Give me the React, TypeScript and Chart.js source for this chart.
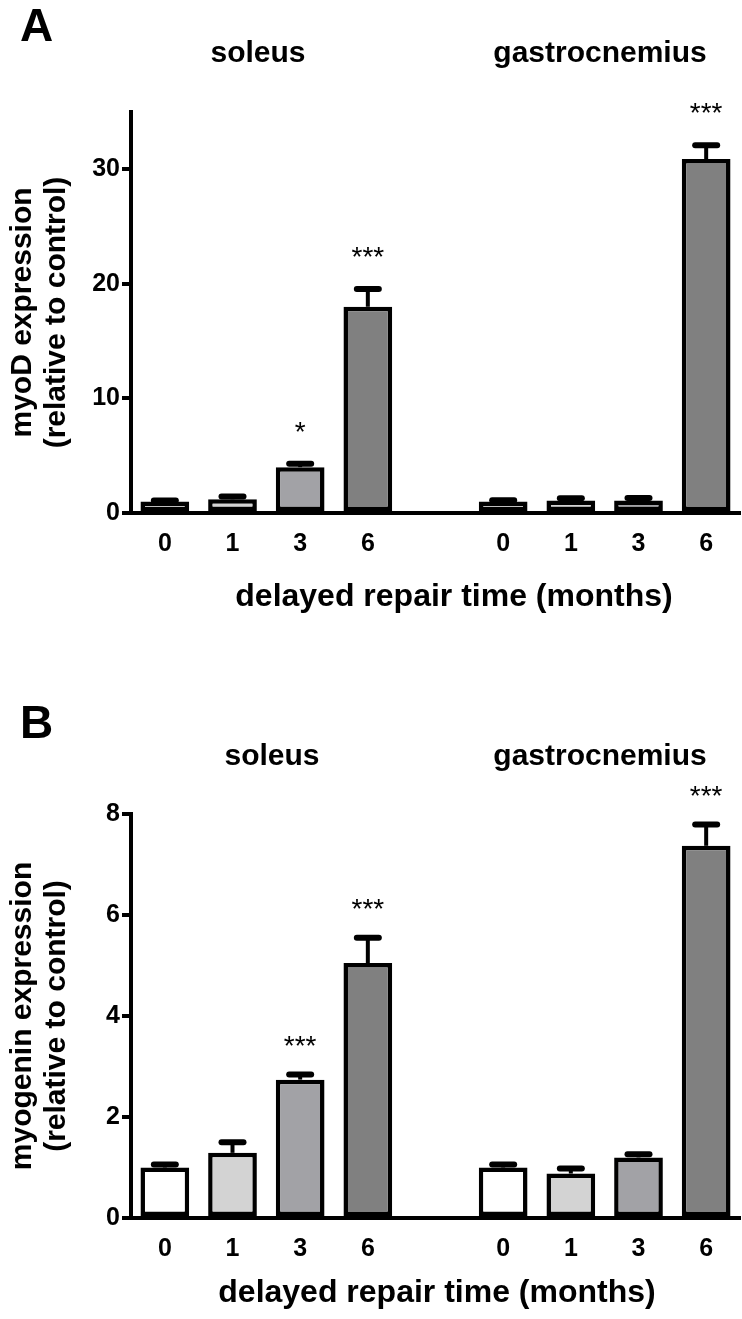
import React, { useEffect, useRef } from "react";
import { Chart, registerables } from "chart.js";

Chart.register(...registerables);

const FONT = "'Liberation Sans', Arial, sans-serif";

const categories = ["0", "1", "3", "6", "", "0", "1", "3", "6"];
const groupNames = ["soleus", "gastrocnemius"];
const barColors = ["#ffffff", "#d3d3d3", "#a2a2a6", "#808080"];

// Panel A: myoD
const soleusMyoD = [1.0, 1.2, 4.0, 18.0];
const soleusMyoDSem = [0.1, 0.25, 0.3, 1.55];
const gastroMyoD = [1.0, 1.1, 1.1, 30.9];
const gastroMyoDSem = [0.12, 0.18, 0.2, 1.2];
const myoDStars = ["", "", "*", "***", "", "", "", "***"];
const myoDTicks = [0, 10, 20, 30];

// Panel B: myogenin
const soleusMyog = [1.0, 1.29, 2.74, 5.05];
const soleusMyogSem = [0.06, 0.21, 0.1, 0.5];
const gastroMyog = [1.0, 0.88, 1.2, 7.37];
const gastroMyogSem = [0.06, 0.1, 0.06, 0.42];
const myogStars = ["", "", "***", "***", "", "", "", "***"];
const myogTicks = [0, 2, 4, 6, 8];

type PanelCfg = {
  letter: string;
  yTitle: string[];
  soleus: number[];
  soleusSem: number[];
  gastro: number[];
  gastroSem: number[];
  stars: string[];
  ticks: number[];
  yMax: number;
  top: number;
  bottom: number;
  letterBaseline: number;
  titleBaseline: number;
  soleusX: number;
  gastroX: number;
  xTitleX: number;
  xTitleBaseline: number;
  starOffset: number;
};

function buildChart(canvas: HTMLCanvasElement, p: PanelCfg, H: number) {
  const values: (number | null)[] = [...p.soleus, null, ...p.gastro];
  const sems: (number | null)[] = [...p.soleusSem, null, ...p.gastroSem];
  const stars: string[] = [...p.stars.slice(0, 4), "", ...p.stars.slice(4)];
  const colors = [...barColors, "#ffffff", ...barColors];

  const plugin = {
    id: "annot",
    afterDatasetsDraw(chart: any) {
      const ctx = chart.ctx as CanvasRenderingContext2D;
      const meta = chart.getDatasetMeta(0);
      const y = chart.scales.y;
      ctx.save();
      ctx.strokeStyle = "#000";
      ctx.fillStyle = "#000";
      values.forEach((v, i) => {
        if (v == null) return;
        const bar = meta.data[i];
        const x = bar.x;
        const yTop = y.getPixelForValue(v);
        const yErr = y.getPixelForValue(v + (sems[i] as number));
        ctx.lineWidth = 4;
        ctx.lineCap = "butt";
        ctx.beginPath();
        ctx.moveTo(x, yTop);
        ctx.lineTo(x, yErr);
        ctx.stroke();
        ctx.lineWidth = 6;
        ctx.lineCap = "round";
        ctx.beginPath();
        ctx.moveTo(x - 11, yErr);
        ctx.lineTo(x + 11, yErr);
        ctx.stroke();
        if (stars[i]) {
          ctx.font = `28px ${FONT}`;
          ctx.textAlign = "center";
          ctx.textBaseline = "alphabetic";
          ctx.fillText(stars[i], x, yErr - p.starOffset + 16);
        }
      });
      ctx.restore();
    },
    afterDraw(chart: any) {
      const ctx = chart.ctx as CanvasRenderingContext2D;
      const area = chart.chartArea;
      ctx.save();
      ctx.fillStyle = "#000";
      ctx.textBaseline = "alphabetic";
      ctx.textAlign = "left";
      ctx.font = `bold 46px ${FONT}`;
      ctx.fillText(p.letter, 20, p.letterBaseline);
      ctx.textAlign = "center";
      ctx.font = `bold 30px ${FONT}`;
      ctx.fillText(groupNames[0], p.soleusX, p.titleBaseline);
      ctx.fillText(groupNames[1], p.gastroX, p.titleBaseline);
      ctx.font = `bold 32px ${FONT}`;
      ctx.fillText("delayed repair time (months)", p.xTitleX, p.xTitleBaseline);
      // y title
      const cy = (area.top + area.bottom) / 2;
      ctx.translate(0, cy);
      ctx.rotate(-Math.PI / 2);
      ctx.textBaseline = "middle";
      ctx.font = `bold 30px ${FONT}`;
      ctx.fillText(p.yTitle[0], 0, 23);
      ctx.fillText(p.yTitle[1], 0, 57);
      ctx.restore();
    },
  };

  return new Chart(canvas, {
    type: "bar",
    data: {
      labels: categories,
      datasets: [
        {
          data: values,
          backgroundColor: colors,
          borderColor: "#000",
          borderWidth: 4.5,
          borderSkipped: false,
          barPercentage: 0.72,
          categoryPercentage: 1,
        },
      ],
    },
    options: {
      responsive: false,
      animation: false,
      devicePixelRatio: 1,
      layout: { padding: { top: p.top, right: 2, left: 0, bottom: 0 } },
      plugins: { legend: { display: false }, tooltip: { enabled: false } },
      scales: {
        x: {
          type: "category",
          offset: true,
          grid: { display: false, drawTicks: false },
          border: { display: true, color: "#000", width: 4 },
          ticks: {
            color: "#000",
            padding: 16,
            font: { family: FONT, size: 25, weight: "bold" },
            maxRotation: 0,
            autoSkip: false,
          },
          afterFit(s: any) {
            s.height = H - p.bottom;
          },
        },
        y: {
          min: 0,
          max: p.yMax,
          afterBuildTicks(s: any) {
            s.ticks = p.ticks.map((v) => ({ value: v }));
          },
          grid: {
            display: true,
            drawOnChartArea: false,
            drawTicks: true,
            tickLength: 9,
            lineWidth: 4,
            color: "#000",
          },
          border: { display: true, color: "#000", width: 4 },
          ticks: {
            color: "#000",
            padding: 2,
            font: { family: FONT, size: 25, weight: "bold" },
          },
          afterFit(s: any) {
            s.width = 131;
          },
        },
      },
    },
    plugins: [plugin],
  });
}

const panelA: PanelCfg = {
  letter: "A",
  yTitle: ["myoD expression", "(relative to control)"],
  soleus: soleusMyoD,
  soleusSem: soleusMyoDSem,
  gastro: gastroMyoD,
  gastroSem: gastroMyoDSem,
  stars: myoDStars,
  ticks: myoDTicks,
  yMax: 35,
  top: 112,
  bottom: 513,
  letterBaseline: 41,
  titleBaseline: 62,
  soleusX: 258,
  gastroX: 600,
  xTitleX: 454,
  xTitleBaseline: 606,
  starOffset: 39,
};

const panelB: PanelCfg = {
  letter: "B",
  yTitle: ["myogenin expression", "(relative to control)"],
  soleus: soleusMyog,
  soleusSem: soleusMyogSem,
  gastro: gastroMyog,
  gastroSem: gastroMyogSem,
  stars: myogStars,
  ticks: myogTicks,
  yMax: 8,
  top: 154,
  bottom: 558,
  letterBaseline: 78,
  titleBaseline: 105,
  soleusX: 272,
  gastroX: 600,
  xTitleX: 437,
  xTitleBaseline: 642,
  starOffset: 36,
};

function Panel({ cfg, h }: { cfg: PanelCfg; h: number }) {
  const ref = useRef<HTMLCanvasElement | null>(null);
  useEffect(() => {
    if (!ref.current) return;
    const c = buildChart(ref.current, cfg, h);
    return () => c.destroy();
  }, [cfg, h]);
  return (
    <canvas
      ref={ref}
      width={742}
      height={h}
      style={{ display: "block", width: 742, height: h }}
    />
  );
}

export default function App() {
  return (
    <div style={{ position: "absolute", left: 0, top: 0, width: 742, height: 1319, background: "#fff" }}>
      <Panel cfg={panelA} h={660} />
      <Panel cfg={panelB} h={659} />
    </div>
  );
}
